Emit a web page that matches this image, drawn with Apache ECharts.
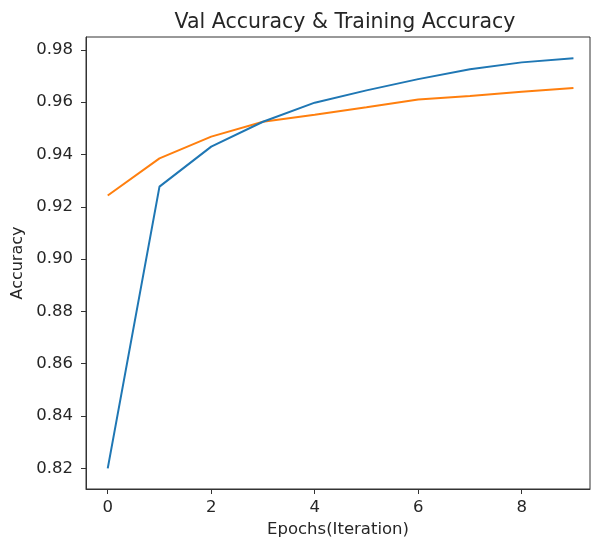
<!DOCTYPE html>
<html>
<head>
<meta charset="utf-8">
<script src="https://cdn.jsdelivr.net/npm/echarts@6/dist/echarts.min.js"></script>
<style>
  html, body { margin: 0; padding: 0; background: #fff; }
  #main { width: 591px; height: 537px; }
</style>
</head>
<body>
<div id="main"></div>
<script>
var myChart = echarts.init(document.getElementById('main'));

// values
var epochs = [0, 1, 2, 3, 4, 5, 6, 7, 8, 9];
var blueAcc = [0.820, 0.9277, 0.943, 0.9525, 0.9598, 0.9645, 0.9688, 0.9726, 0.9752, 0.9768];
var orangeAcc = [0.9243, 0.9385, 0.9468, 0.9525, 0.9552, 0.958, 0.961, 0.9623, 0.964, 0.9654];
var xTicks = [0, 2, 4, 6, 8];
var yTicks = [0.82, 0.84, 0.86, 0.88, 0.90, 0.92, 0.94, 0.96, 0.98];

var fontFamily = 'DejaVu Sans';
var textColor = '#262626';

function pairs(ys) {
  return epochs.map(function (x, i) { return [x, ys[i]]; });
}

option = {
  animation: false,
  backgroundColor: '#fff',
  title: {
    text: 'Val Accuracy & Training Accuracy',
    left: 340,
    top: 7,
    textAlign: 'center',
    textStyle: { fontFamily: fontFamily, fontSize: 20.5, fontWeight: 'normal', color: textColor }
  },
  grid: {
    left: 86,
    right: 1,
    top: 37,
    bottom: 48,
    outerBoundsMode: 'none',
    containLabel: false,
    show: true,
    borderColor: '#333',
    borderWidth: 1,
    backgroundColor: 'transparent'
  },
  xAxis: {
    type: 'value',
    min: -0.42,
    max: 9.32,
    name: 'Epochs(Iteration)',
    nameLocation: 'middle',
    nameGap: 30,
    nameTextStyle: { fontFamily: fontFamily, fontSize: 16.5, color: textColor },
    axisLine: { show: true, onZero: false, lineStyle: { color: '#333', width: 1 } },
    axisTick: { show: true, customValues: xTicks, length: 5, lineStyle: { color: '#333' } },
    axisLabel: {
      customValues: xTicks,
      margin: 10,
      fontFamily: fontFamily, fontSize: 16.5, color: textColor,
      formatter: function (v) { return String(v); }
    },
    splitLine: { show: false }
  },
  yAxis: {
    type: 'value',
    min: 0.8121,
    max: 0.9849,
    name: 'Accuracy',
    nameLocation: 'middle',
    nameGap: 60,
    nameRotate: 90,
    nameTextStyle: { fontFamily: fontFamily, fontSize: 16, color: textColor },
    axisLine: { show: true, onZero: false, lineStyle: { color: '#333', width: 1 } },
    axisTick: { show: true, customValues: yTicks, length: 5, lineStyle: { color: '#333' } },
    axisLabel: {
      customValues: yTicks,
      margin: 13,
      fontFamily: fontFamily, fontSize: 16.5, color: textColor,
      formatter: function (v) { return v.toFixed(2); }
    },
    splitLine: { show: false }
  },
  series: [
    {
      name: 'Accuracy',
      type: 'line',
      data: pairs(blueAcc),
      showSymbol: false,
      symbol: 'none',
      lineStyle: { color: '#1f77b4', width: 2 },
      itemStyle: { color: '#1f77b4' },
      z: 3
    },
    {
      name: 'Val Accuracy',
      type: 'line',
      data: pairs(orangeAcc),
      showSymbol: false,
      symbol: 'none',
      lineStyle: { color: '#ff7f0e', width: 2 },
      itemStyle: { color: '#ff7f0e' },
      z: 2
    }
  ]
};

myChart.setOption(option);
</script>
</body>
</html>
